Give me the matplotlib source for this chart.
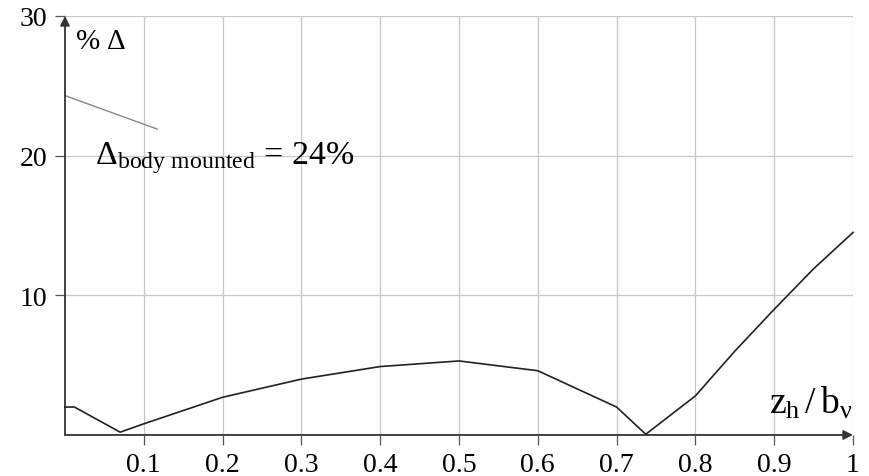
import matplotlib
matplotlib.use("Agg")
import matplotlib.pyplot as plt

plt.rcParams["font.family"] = ["Liberation Serif", "DejaVu Serif"]
plt.rcParams["mathtext.fontset"] = "custom"
plt.rcParams["mathtext.rm"] = "Liberation Serif"
plt.rcParams["mathtext.it"] = "Liberation Serif"

# ratio z_h / b_v and the % difference
zh_bv = [0.0, 0.012, 0.07, 0.08, 0.1, 0.2, 0.3, 0.4, 0.5, 0.6, 0.7, 0.737, 0.8, 0.85, 0.9, 0.95, 1.0]
delta = [2.0, 2.0, 0.2, 0.4, 0.8, 2.7, 4.0, 4.9, 5.3, 4.6, 2.0, 0.05, 2.8, 6.0, 9.0, 11.9, 14.5]

x_ticks = [0.1, 0.2, 0.3, 0.4, 0.5, 0.6, 0.7, 0.8, 0.9, 1.0]
x_tick_labels = ["0.1", "0.2", "0.3", "0.4", "0.5", "0.6", "0.7", "0.8", "0.9", "1"]
y_ticks = [10, 20, 30]

# body mounted reference marker
body_line_x = [0.0, 0.117]
body_line_y = [24.3, 21.9]

fig = plt.figure(figsize=(8.69, 4.77), dpi=100)
ax = fig.add_axes([0.0748, 0.086, 0.9068, 0.8784])

ax.set_xlim(0, 1)
ax.set_ylim(0, 30)
ax.set_xticks(x_ticks)
ax.set_xticklabels(x_tick_labels)
ax.set_yticks(y_ticks)
ax.grid(True, color="#c8c8c8", linewidth=0.9)
ax.tick_params(axis="both", labelsize=20, color="#555555", length=7, width=0.9,
               direction="out", pad=5)
ax.tick_params(axis="y", pad=6)
for s in ax.spines.values():
    s.set_visible(False)

# axes with arrows
arrow = dict(arrowstyle="-|>", color="#333333", lw=1.3, mutation_scale=14,
             shrinkA=0, shrinkB=0)
ax.annotate("", xy=(1.0, 0), xytext=(0, 0), arrowprops=arrow, annotation_clip=False)
ax.annotate("", xy=(0, 30), xytext=(0, 0), arrowprops=arrow, annotation_clip=False)

ax.plot(zh_bv, delta, color="#222222", linewidth=1.2, clip_on=False, zorder=3)
ax.plot(body_line_x, body_line_y, color="#888888", linewidth=1.0, clip_on=False)

ax.text(0.038, 19.9, r"$\Delta_{\mathrm{body\ mounted}}$ = 24%", fontsize=24.5,
        ha="left", va="center")
ax.text(0.013, 28.2, r"% $\Delta$", fontsize=21, ha="left", va="center")
ax.text(0.999, 1.0, r"$\mathrm{z}_{\mathrm{h}}\,/\,\mathrm{b}_{\nu}$", fontsize=27,
        ha="right", va="bottom")

fig.savefig("out.png", dpi=100)
